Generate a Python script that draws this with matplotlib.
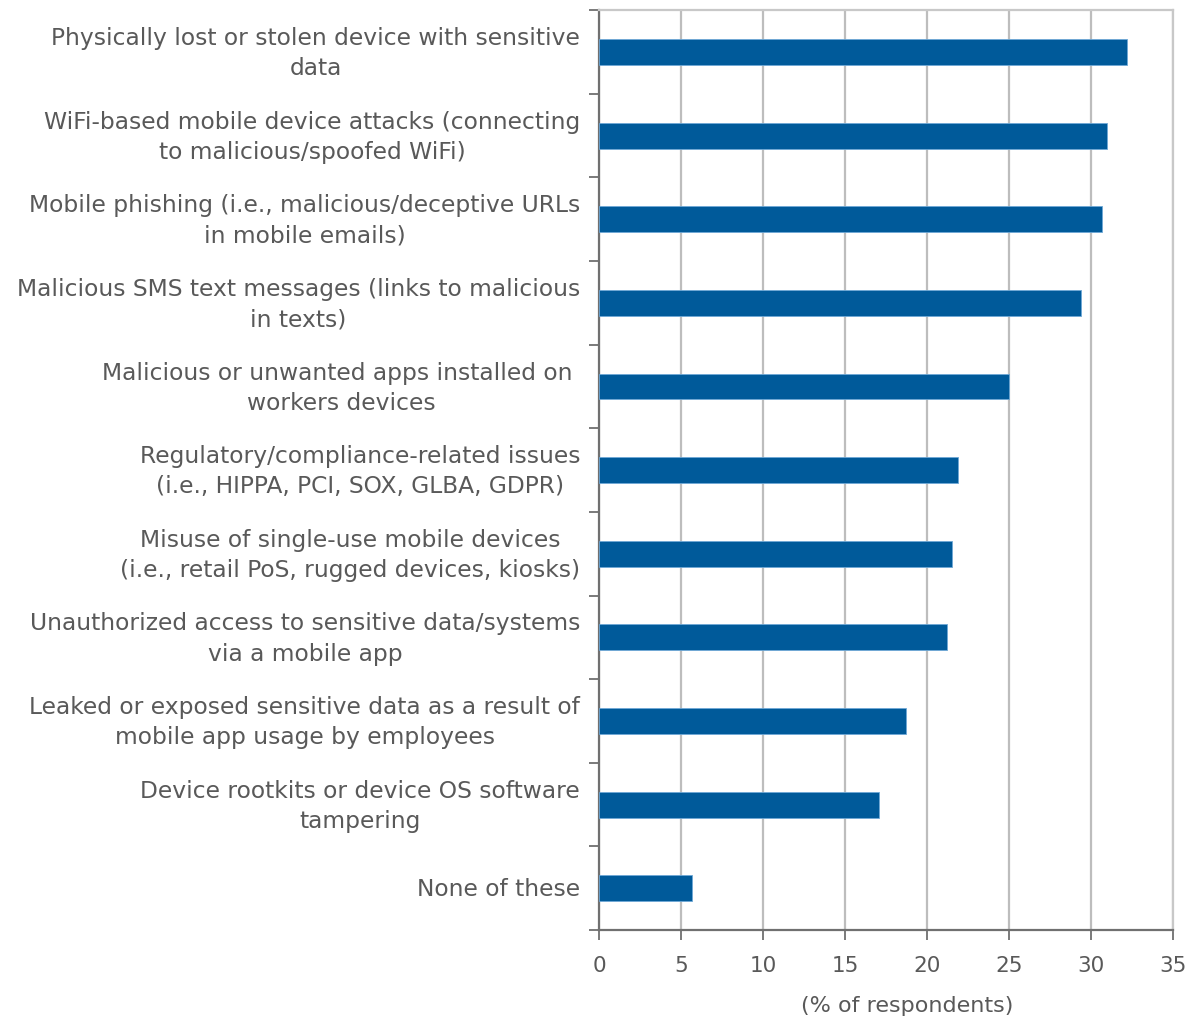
import matplotlib
matplotlib.use("Agg")
import matplotlib.pyplot as plt
import matplotlib.transforms as mtransforms
import numpy as np

categories = [
    "Physically lost or stolen device with sensitive\ndata",
    "WiFi-based mobile device attacks (connecting\nto malicious/spoofed WiFi)",
    "Mobile phishing (i.e., malicious/deceptive URLs\nin mobile emails)",
    "Malicious SMS text messages (links to malicious\nin texts)",
    "Malicious or unwanted apps installed on \nworkers devices",
    "Regulatory/compliance-related issues\n(i.e., HIPPA, PCI, SOX, GLBA, GDPR)",
    "Misuse of single-use mobile devices\n(i.e., retail PoS, rugged devices, kiosks)",
    "Unauthorized access to sensitive data/systems\nvia a mobile app",
    "Leaked or exposed sensitive data as a result of\nmobile app usage by employees",
    "Device rootkits or device OS software\ntampering",
    "None of these",
]
values = [32.2, 31.0, 30.65, 29.4, 25.0, 21.9, 21.5, 21.2, 18.7, 17.1, 5.7]
xticks = [0, 5, 10, 15, 20, 25, 30, 35]

plt.rcParams['font.family'] = ['DejaVu Sans']
txt = '#595959'

fig = plt.figure(figsize=(11.92, 10.26), dpi=100)
ax = fig.add_axes([0.5025, 0.0936, 0.4815, 0.8964])

n = len(categories)
ypos = np.arange(n)[::-1]
ax.barh(ypos, values, height=0.31, color='#005a9a', edgecolor='#6fa8d6', linewidth=0.6, zorder=3)

ax.set_xlim(0, 35)
ax.set_ylim(-0.5, n - 0.5)
ax.set_xticks(xticks)
ax.set_xticklabels([str(t) for t in xticks], fontsize=15.5, color=txt)
ax.grid(axis='x', color='#bdbdbd', linewidth=1.6, zorder=0)
ax.set_axisbelow(True)

ax.set_yticks(np.arange(n + 1) - 0.5)
ax.set_yticklabels([])
ax.tick_params(axis='y', direction='out', length=7, color='#707070', width=1.3)
ax.tick_params(axis='x', direction='out', length=7, color='#707070', width=1.3, pad=12)

for s in ['left', 'bottom']:
    ax.spines[s].set_color('#707070')
    ax.spines[s].set_linewidth(1.6)
for s in ['top', 'right']:
    ax.spines[s].set_color('#c8c8c8')
    ax.spines[s].set_linewidth(1.6)

trans = mtransforms.blended_transform_factory(ax.transAxes, ax.transData)
for y, lab in zip(ypos, categories):
    ax.text(-0.033, y - 0.02, lab, transform=trans, ha='right', va='center', multialignment='center',
            fontsize=16.8, color=txt, linespacing=1.4)

ax.set_xlabel('(% of respondents)', fontsize=16, color=txt, labelpad=14)
ax.xaxis.label.set_x(0.537)

fig.savefig('out.png', dpi=100)
